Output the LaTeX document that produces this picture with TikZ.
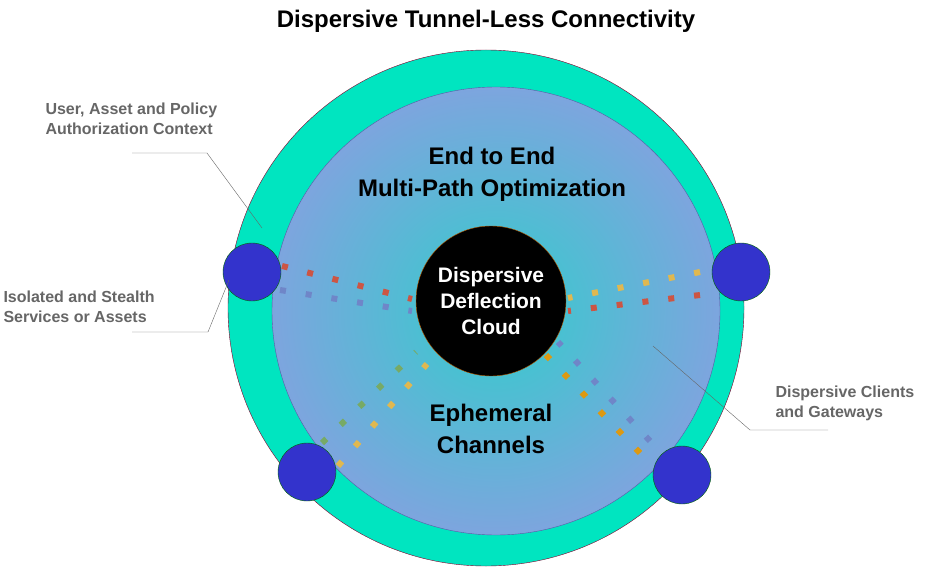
\documentclass[tikz,border=0pt]{standalone}
\usepackage{fontspec}
\setmainfont{Liberation Sans}
\usetikzlibrary{calc}
\definecolor{ringgreen}{HTML}{00E5C0}
\definecolor{hubblue}{HTML}{3333CC}
\definecolor{labelgray}{HTML}{666666}
\definecolor{dotred}{HTML}{CC5544}
\definecolor{dotblue}{HTML}{6F86C8}
\definecolor{dotyellow}{HTML}{E0B850}
\definecolor{dotgreen}{HTML}{77AA66}
\definecolor{dotorange}{HTML}{DD9911}
\begin{document}
\begin{tikzpicture}[x=1pt,y=-1pt,font=\bfseries]
% Styles for the hubs, channels and labels
\tikzset{hub/.style={circle,draw=green!40!black,fill=hubblue,minimum size=58pt,inner sep=0}}
\tikzset{channel/.style={line width=6pt,dash pattern=on 6pt off 20pt}}
\tikzset{side label/.style={text=labelgray,font=\fontsize{16}{20}\selectfont\bfseries,align=left}}
\tikzset{leader/.style={draw=labelgray,thin}}
\useasboundingbox (0,0) rectangle (936,572);
% The rings
\node(ring)[circle,draw=purple!70!black,fill=ringgreen,minimum size=516pt,inner sep=0] at (486,308) {};
\node(field)[circle,draw=blue!30!gray,inner sep=0,minimum size=448pt,inner color={rgb,255:red,51;green,204;blue,204},outer color={rgb,255:red,125;green,165;blue,222}] at (496,311) {};
% The hubs
\node(h1)[hub] at (252,272) {};
\node(h2)[hub] at (741,272) {};
\node(h3)[hub] at (307,472) {};
\node(h4)[hub] at (682,475) {};
% Named ends of the channels
\coordinate(a1) at (282,266); \coordinate(a2) at (412,299);
\coordinate(b1) at (280,290); \coordinate(b2) at (412,311);
\coordinate(c1) at (700,272); \coordinate(c2) at (568,298);
\coordinate(d1) at (700,295); \coordinate(d2) at (568,311);
\coordinate(e1) at (322,443); \coordinate(e2) at (416,352);
\coordinate(f1) at (338,466); \coordinate(f2) at (427,364);
\coordinate(g1) at (650,441); \coordinate(g2) at (558,342);
\coordinate(k1) at (640,453); \coordinate(k2) at (546,355);
\draw[channel,dotred](a1)--(a2);
\draw[channel,dotblue](b1)--(b2);
\draw[channel,dotyellow](c1)--(c2);
\draw[channel,dotred](d1)--(d2);
\draw[channel,dotgreen](e1)--(e2);
\draw[channel,dotyellow](f1)--(f2);
\draw[channel,dotblue](g1)--(g2);
\draw[channel,dotorange](k1)--(k2);
% The cloud
\node(cloud)[circle,draw=orange!70!black,fill=black,minimum size=150pt,inner sep=0,text=white,align=center,font=\fontsize{21}{26}\selectfont\bfseries] at (491,301) {Dispersive\\Deflection\\Cloud};
% Texts
\node(title)[font=\fontsize{24}{28}\selectfont\bfseries] at (486,21) {Dispersive Tunnel-Less Connectivity};
\node(opt)[align=center,font=\fontsize{24}{32}\selectfont\bfseries] at (492,174) {End to End\\Multi-Path Optimization};
\node(eph)[align=center,font=\fontsize{24}{32}\selectfont\bfseries] at (491,429) {Ephemeral\\Channels};
\node(ctx)[side label,anchor=west] at (42,119) {User, Asset and Policy\\Authorization Context};
\node(iso)[side label,anchor=west] at (0,307) {Isolated and Stealth\\Services or Assets};
\node(cli)[side label,anchor=west] at (772,403) {Dispersive Clients\\and Gateways};
% Leader lines
\coordinate(l1) at (207,153); \coordinate(l2) at (208,332); \coordinate(l3) at (750,430);
\draw[leader](132,153)--(l1)--(262,228);
\draw[leader](132,332)--(l2)--(229,280);
\draw[leader](828,430)--(l3)--(653,346);
\end{tikzpicture}
\end{document}
